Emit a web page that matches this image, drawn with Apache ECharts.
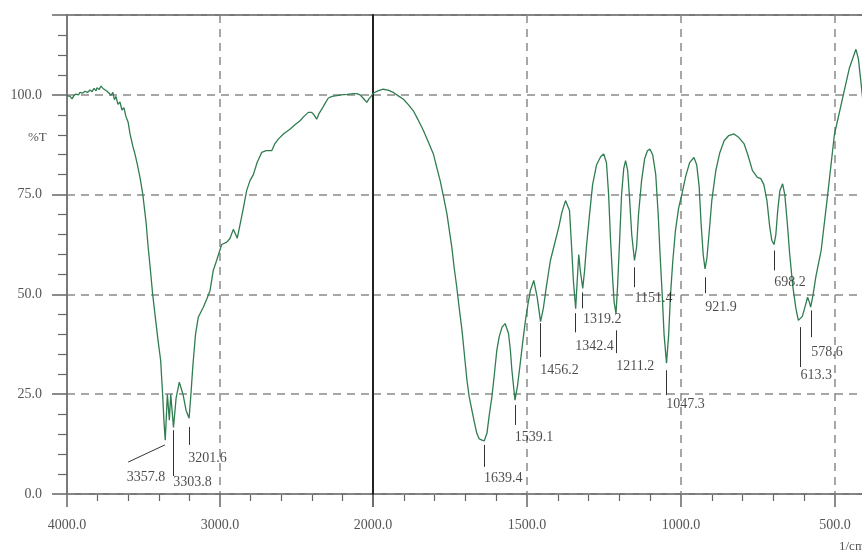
<!DOCTYPE html>
<html><head><meta charset="utf-8">
<script src="https://cdn.jsdelivr.net/npm/echarts@6/dist/echarts.min.js"></script>
<style>html,body{margin:0;padding:0;background:#fff}#c{width:862px;height:555px}</style>
</head><body><div id="c"></div>
<script>
// ---- data: FTIR spectrum, wavenumber (1/cm) vs %T ----
const highWn = [4000,3980,3967,3955,3941,3925,3915,3900,3882,3866,3850,3836,3823,3810,3804,3790,3778,3765,3752,3738,3725,3712,3700,3690,3680,3667,3654,3641,3628,3615,3601,3588,3569,3556,3540,3523,3505,3483,3470,3457,3440,3425,3405,3388,3375,3366,3358,3344,3331,3322,3304,3287,3266,3242,3222,3202,3190,3178,3160,3142,3109,3085,3065,3044,3022,2989,2956,2935,2913,2887,2869,2848,2826,2804,2782,2758,2727,2699,2662,2641,2619,2582,2543,2510,2477,2451,2423,2401,2386,2368,2353,2335,2314,2292,2268,2237,2209,2170,2129,2105,2085,2065,2041,2026,2009,2000];
const highT  = [99.8,99.6,99.0,99.8,100.2,100.0,100.6,100.4,100.9,100.6,101.2,100.8,101.6,101.0,101.8,101.3,102.2,101.6,102.0,100.9,101.4,99.9,100.6,98.8,99.6,97.6,98.2,96.2,96.8,94.6,93.2,90.2,87.0,85.2,82.5,79.3,75.2,68,62,57,50,45,38.5,33.5,25,18,13.5,25,18.5,25,16.7,24,28,25,21,19,25,31.8,40,44.3,46.8,49,51,56,58.5,62.5,63.1,64,66.3,64.1,67.5,71.5,76,78.5,80,83,85.6,86,86,87.8,88.9,90.3,91.4,92.5,93.5,94.6,95.6,95.6,95.0,93.9,95.3,96.4,97.8,99.2,99.6,99.8,100.0,100.1,100.3,100.3,100,99.2,98.1,99,99.8,100.4];
const lowWn = [2000,1984,1967,1951,1934,1919,1901,1886,1869,1854,1836,1821,1804,1792,1782,1771,1760,1753,1744,1737,1728,1720,1711,1704,1695,1688,1679,1671,1663,1655,1646,1639,1630,1623,1614,1606,1598,1590,1581,1571,1560,1554,1549,1539,1531,1522,1514,1505,1497,1489,1478,1467,1456,1447,1437,1424,1411,1397,1387,1375,1369,1362,1356,1349,1342,1338,1332,1327,1319,1313,1307,1297,1287,1274,1261,1251,1242,1235,1229,1222,1217,1211,1206,1199,1193,1186,1180,1173,1167,1160,1151,1144,1138,1128,1118,1109,1101,1092,1082,1074,1068,1061,1055,1047,1040,1034,1027,1018,1008,996,985,972,958,949,941,935,928,922,916,908,900,887,874,860,845,828,812,795,783,768,752,741,731,721,712,705,698,692,686,679,670,663,655,647,637,627,619,613,606,597,589,583,579,571,562,545,526,502,475,453,432,424,417,410,400];
const lowT  = [100.4,101.0,101.4,101.2,100.6,99.8,98.9,97.6,96,93.8,91,88.3,85.2,81.5,78.5,74.5,70.2,66.5,61.8,57,51.8,46.5,41,35.5,28.5,24.5,21,18,15.2,13.8,13.5,13.3,15.2,19.5,24.3,30,36,39.5,41.8,42.7,40.2,36,31,23.5,27,32.7,38,43.5,47.5,51,53.5,49.3,43.2,46.5,52,58.5,62.5,66.8,70.5,73.5,74,71,63,53,46.4,52,60,56,51.5,56,62,70,77.5,82.5,84.5,85.2,83,75,64,54,48,45.2,52,64,75,81.5,83.5,81,74,65,58.5,62,70,78.5,84,86,86.4,85,80,70,60,50,40,32.8,40,50,58,66,71.5,75.5,79.5,83,84.3,82.5,77,68,60,56.4,59,66,73.5,81,85.5,88.5,89.8,90.2,89.3,87.7,85,81,79.3,79,77.5,73.5,67,63.5,62.5,65,71,76,77.7,75,68,60,52,46.5,43.5,43.1,44.5,47,49.3,48,46.8,50,54.5,61,73.5,90,99.3,106.8,111.4,109,104,99,93];
const peakLabels = ['3357.8','3303.8','3201.6','1639.4','1539.1','1456.2','1342.4','1319.2','1211.2','1151.4','1047.3','921.9','698.2','613.3','578.6'];
const peakWn = [3357.8,3303.8,3201.6,1639.4,1539.1,1456.2,1342.4,1319.2,1211.2,1151.4,1047.3,921.9,698.2,613.3,578.6];

// ---- annotation layout (leader start/end and label anchor, in axis units) ----
const leaderFrom = [[3360,12.3],[3303.8,16],[3201.6,16.8],[1639.4,12.3],[1539.1,22.3],[1456.2,42.8],[1342.4,45.3],[1319.2,50.5],[1211.2,41],[1151.4,56.8],[1047.3,31],[921.9,54.3],[698.2,61],[613.3,41.8],[578.6,46]];
const leaderTo   = [[3600,8.0],[3303.8,4.5],[3201.6,12.3],[1639.4,6.8],[1539.1,17.3],[1456.2,34.3],[1342.4,40.5],[1319.2,46.5],[1211.2,35.3],[1151.4,51.8],[1047.3,24.8],[921.9,50.3],[698.2,56],[613.3,31.8],[578.6,39.3]];
const labelAt    = [[3610,4.3],[3306,2.8],[3207,9],[1640,4],[1540,14.3],[1457,31],[1343,37],[1318,43.8],[1210,32],[1151,49],[1048,22.5],[921,46.8],[697,53],[612,29.8],[577,35.5]];

const SERIF = '"Liberation Serif","DejaVu Serif",serif';
const zip = (a,b) => a.map((v,i)=>[v,b[i]]);

function xAxisCfg(gi, min, max, interval, hide2000) {
  return {
    gridIndex: gi, type: 'value', min: min, max: max, interval: interval, inverse: true,
    axisLine: {show: true, onZero: false, lineStyle: {color: '#7a7a7a', width: 2}},
    axisTick: {show: true, length: 13, lineStyle: {color: '#666', width: 1.5}},
    minorTick: {show: true, splitNumber: 5, length: 7, lineStyle: {color: '#666', width: 1.2}},
    axisLabel: {margin: 24, color: '#555', fontFamily: SERIF, fontSize: 14,
      formatter: v => (hide2000 && v === 2000) ? '' : v.toFixed(1)},
    splitLine: {show: true, lineStyle: {color: '#8a8a8a', type: [8, 6], width: 1.5}},
    minorSplitLine: {show: false}
  };
}
function yAxisCfg(gi, isLeft) {
  return {
    gridIndex: gi, type: 'value', min: 0, max: 120, interval: 25, position: 'left', z: isLeft ? 2 : 4,
    axisLine: {show: true, onZero: false, lineStyle: {color: isLeft ? '#7a7a7a' : '#222', width: 2}},
    axisTick: {show: isLeft, length: 15, lineStyle: {color: '#666', width: 1.5}},
    minorTick: {show: isLeft, splitNumber: 5, length: 9, lineStyle: {color: '#666', width: 1.2}},
    axisLabel: {show: isLeft, margin: 25, color: '#555', fontFamily: SERIF, fontSize: 14,
      formatter: v => v > 100 ? '' : v.toFixed(1)},
    splitLine: {show: true, lineStyle: {color: '#8a8a8a', type: [8, 6], width: 1.5}}
  };
}

const series = [
  {type: 'line', xAxisIndex: 0, yAxisIndex: 0, data: zip(highWn, highT), showSymbol: false, symbol: 'none',
   lineStyle: {color: '#2f7d50', width: 1.3}, z: 5},
  {type: 'line', xAxisIndex: 1, yAxisIndex: 1, data: zip(lowWn, lowT), showSymbol: false, symbol: 'none',
   lineStyle: {color: '#2f7d50', width: 1.3}, z: 5}
];
[0, 1].forEach(gi => {
  const idx = peakWn.map((w,i)=>i).filter(i => gi === 0 ? peakWn[i] > 2000 : peakWn[i] <= 2000);
  series.push({type: 'lines', coordinateSystem: 'cartesian2d', xAxisIndex: gi, yAxisIndex: gi, z: 6,
    lineStyle: {color: '#333', width: 1, opacity: 1}, symbol: 'none',
    data: idx.map(i => ({coords: [leaderFrom[i], leaderTo[i]]}))});
  series.push({type: 'scatter', xAxisIndex: gi, yAxisIndex: gi, symbolSize: 0, z: 7, silent: true,
    data: idx.map(i => ({value: labelAt[i], name: peakLabels[i]})),
    label: {show: true, position: 'right', distance: 0, formatter: p => p.name,
      color: '#1e1e1e', fontFamily: SERIF, fontSize: 14}});
});

const chart = echarts.init(document.getElementById('c'), null, {renderer: 'canvas'});
chart.setOption({
  animation: false,
  backgroundColor: '#fff',
  grid: [
    {left: 67, top: 15, width: 306, height: 479, show: true, borderColor: '#7a7a7a', borderWidth: 2, containLabel: false, outerBoundsMode: 'none'},
    {left: 373, top: 15, width: 616, height: 479, show: true, borderColor: '#7a7a7a', borderWidth: 2, containLabel: false, outerBoundsMode: 'none'}
  ],
  xAxis: [xAxisCfg(0, 2000, 4000, 1000, true), xAxisCfg(1, 0, 2000, 500, false)],
  yAxis: [yAxisCfg(0, true), yAxisCfg(1, false)],
  graphic: [
    {type: 'text', left: 28, top: 131, style: {text: '%T', fill: '#555', font: '13px ' + SERIF}},
    {type: 'text', left: 839, top: 540, style: {text: '1/cm', fill: '#555', font: '13px ' + SERIF}}
  ],
  series: series
});
</script>
</body></html>
